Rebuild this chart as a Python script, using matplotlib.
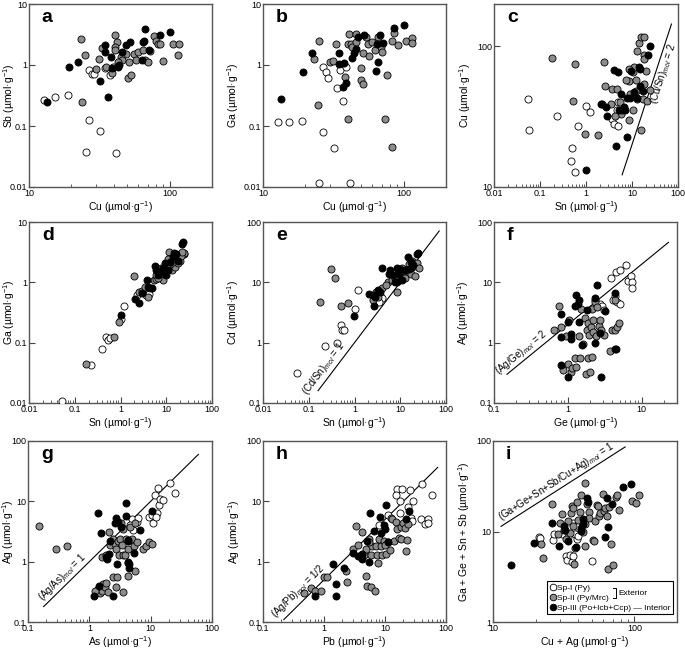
import numpy as np
import matplotlib
matplotlib.use("Agg")
import matplotlib.pyplot as plt
from matplotlib.lines import Line2D
from matplotlib.ticker import LogLocator, FuncFormatter, NullFormatter, NullLocator

plt.rcParams["font.family"] = ["Liberation Sans", "DejaVu Sans"]
plt.rcParams["mathtext.fontset"] = "custom"
plt.rcParams["mathtext.rm"] = "Liberation Sans"
plt.rcParams["mathtext.it"] = "Liberation Sans:italic"

UNIT = " (µmol·g$^{-1}$)"

# ---- a: Cu vs Sb
a_white_cu = [12.8, 15.4, 18.8, 26.7, 28, 29, 26.7, 31.8, 25.3, 41.3, 37.5, 34.6, 39.5]
a_white_sb = [0.27, 0.30, 0.32, 0.83, 0.71, 0.71, 0.125, 0.082, 0.038, 0.036, 0.69, 0.88, 0.94]
a_gray_cu = [23.3, 25, 24, 31.4, 30, 33, 40.6, 42, 40.6, 40.6, 35.5, 39, 46.4, 49, 51.7, 50.7, 52.8, 56,
             58, 60, 65, 67, 70, 72, 77, 80, 82, 85, 90, 105, 116, 115, 45, 46, 43]
a_gray_sb = [2.67, 1.46, 0.25, 1.25, 0.86, 1.88, 3.1, 2.35, 1.98, 1.75, 0.94, 0.75, 1.55, 1.52, 1.1, 0.61,
             0.69, 1.5, 1.2, 1.62, 1.74, 1.2, 1.1, 1.68, 3.0, 2.45, 2.2, 2.2, 1.16, 2.2, 2.2, 1.46, 1.37, 1.2, 1.1]
a_black_cu = [13.4, 19.3, 22.4, 32, 36.5, 34.5, 34.5, 38, 39, 43, 43.5, 46, 48.6, 52.5, 65, 67, 63.6, 65.5,
              71.5, 86, 100]
a_black_sb = [0.25, 0.93, 1.1, 0.55, 0.3, 2.1, 1.65, 1.33, 0.89, 0.94, 1.0, 1.65, 2.1, 2.4, 2.4, 3.9, 1.2,
              2.5, 1.75, 3.1, 3.5]

# ---- b: Cu vs Ga
b_white_cu = [12.8, 15.4, 18.8, 26.6, 28, 29.1, 33.8, 37.3, 26.8, 32, 25.1, 41.3, 35.3, 38.8]
b_white_ga = [0.117, 0.117, 0.12, 0.94, 0.78, 0.62, 0.42, 0.26, 0.08, 0.043, 0.0118, 0.0118, 0.83, 0.94]
b_gray_cu = [25.1, 23.2, 24.5, 30, 31.5, 33, 41, 40, 42, 43, 45.5, 40.5, 38.5, 49.4, 50, 51.5, 51.5, 55.7,
             57, 59.8, 63, 65.5, 68.5, 70, 76, 82.5, 86, 90.6, 74, 83, 104, 114, 114, 46, 53.6]
b_gray_ga = [2.5, 1.24, 0.22, 1.1, 1.17, 2.2, 3.2, 2.2, 2.25, 2.0, 2.4, 0.13, 0.64, 0.88, 0.57, 0.48, 1.6,
             2.2, 1.4, 2.4, 1.76, 2.9, 2.0, 1.65, 0.69, 2.5, 3.3, 2.1, 0.13, 0.046, 2.5, 2.8, 2.3, 3.2, 2.9]
b_black_cu = [13.4, 19.3, 22.4, 34.8, 34.8, 37.7, 36.8, 38.6, 43, 44.4, 45.5, 47.7, 52, 65, 66, 63.3, 68,
              71, 85, 100]
b_black_ga = [0.28, 0.78, 1.6, 1.6, 1.05, 1.08, 0.44, 0.51, 1.32, 1.55, 1.8, 2.9, 3.1, 2.2, 1.14, 0.8,
              3.1, 2.3, 4.0, 4.5]

# ---- c: Sn vs Cu
c_white_sn = [0.054, 0.057, 0.24, 0.66, 1.01, 1.22, 0.49, 0.48, 0.58, 3.68, 4.05, 4.86, 4.95, 4.68]
c_white_cu = [42, 25.5, 32, 27, 37.5, 34, 19, 15.3, 12.8, 30.5, 28, 27, 40, 35]
c_gray_sn = [0.186, 0.59, 0.51, 0.97, 1.82, 2.52, 2.61, 2.26, 3.5, 3.68, 4.77, 5.5, 5.78, 4.31, 8.75,
             9.14, 8.47, 10.35, 10.6, 11, 12.0, 12.0, 12.9, 12.7, 14.4, 15.8, 18.5, 17.9, 18.5, 20.4,
             18.2, 17.0, 20.9, 15.4, 24.3, 7.4, 8.47]
c_gray_cu = [83, 75, 41, 24, 23.5, 78, 52, 39, 39, 50, 50, 40, 33, 32, 30, 46, 57, 35, 66, 71, 58, 48,
             42, 92, 106, 116, 116, 87, 81, 67, 54, 42, 41, 25.5, 49, 58, 69]
c_black_sn = [1.01, 2.08, 2.7, 2.88, 4.13, 4.86, 5.78, 5.22, 6.05, 6.7, 7.06, 7.9, 8.93, 9.4, 7.9,
              4.41, 14.1, 14.6, 14.6, 17.0, 21.8, 24.3, 12.7, 11.3]
c_black_cu = [13.3, 39, 37, 32, 68, 66, 46, 35, 35, 37, 35, 43, 43, 67, 22.5, 19.5, 71, 69, 52, 48, 87,
              101, 43, 47]

# ---- d: Sn vs Ga
d_white_sn = [0.052, 0.23, 0.40, 0.49, 0.53, 0.58, 1.0, 1.2, 2.3, 3.7, 3.9, 4.1, 7.5, 11, 14]
d_white_ga = [0.0108, 0.042, 0.078, 0.124, 0.11, 0.12, 0.245, 0.41, 0.62, 0.62, 0.77, 0.64, 1.16, 1.77, 2.05]
d_gray_sn = [0.18, 0.72, 0.93, 2.0, 2.5, 2.9, 4.0, 5.3, 5.9, 7.0, 8.5, 10, 11.5, 12.4, 13.5, 15.6, 17,
             19.5, 24, 25, 13, 20, 3.5, 4.5, 6, 6.5, 8, 9, 11, 12, 14, 16, 18, 21, 22, 10.5, 7.5]
d_gray_ga = [0.045, 0.125, 0.22, 1.25, 0.68, 0.72, 0.57, 1.1, 1.15, 1.35, 1.1, 1.6, 3.2, 1.9, 1.6, 1.8,
             2.6, 2.3, 3.0, 3.1, 2.5, 2.8, 0.85, 0.8, 1.3, 1.2, 1.5, 1.4, 2.4, 2.0, 2.2, 2.9, 2.1, 2.7,
             3.2, 1.8, 1.7]
d_black_sn = [1.0, 2.1, 2.6, 3.0, 3.8, 3.9, 4.8, 5.6, 6.1, 6.7, 7.6, 8.3, 9.6, 10, 12, 13.7, 14.8, 16.3,
              18.2, 22.6, 23.6, 11]
d_black_ga = [0.29, 0.52, 0.46, 0.66, 1.1, 0.83, 0.8, 1.85, 1.6, 1.33, 1.5, 1.7, 2.1, 1.33, 2.2, 2.65,
              3.1, 2.95, 2.3, 4.4, 4.7, 1.6]

# ---- e: Sn vs Cd
e_white_sn = [0.055, 0.23, 0.42, 0.50, 0.52, 0.58, 1.0, 1.2, 3.7, 3.9, 3.4, 7.6, 10.3]
e_white_cd = [0.31, 0.89, 1.0, 2.0, 1.6, 1.6, 3.6, 7.5, 6.2, 5.5, 4.8, 12.4, 14]
e_gray_sn = [0.18, 0.50, 0.73, 0.30, 0.37, 2.6, 3.0, 3.3, 3.9, 5.5, 5.0, 6.5, 7.6, 8.6, 9.1, 9.8, 10.7,
             11.6, 12.3, 13, 14.5, 15.6, 17.6, 18.3, 19.2, 20, 20.5, 22.7, 25.5]
e_gray_cd = [4.8, 4.0, 4.5, 16.4, 11.6, 5.1, 7.0, 5.8, 8.0, 10.3, 9.1, 10.9, 11.6, 7.0, 14.1, 13.2, 17,
             15, 12.4, 11.6, 16, 20, 14, 23, 20, 18.3, 12.7, 21, 17.1]
e_black_sn = [0.98, 2.1, 2.5, 2.8, 2.7, 3.9, 3.3, 3.6, 5.6, 5.9, 7.0, 7.6, 8.3, 8.7, 9.5, 10, 10.7, 14.5,
              15.6, 16.9, 17.6, 18.7, 23.5, 24.5, 12.6]
e_black_cd = [2.8, 6.4, 6.2, 5.8, 4.0, 17.6, 7.5, 6.8, 14, 16, 13.2, 10.3, 17, 10.3, 14, 16.4, 11, 26.5,
              16.4, 21.9, 17, 19.3, 29.5, 30.5, 15.9]

# ---- f: Ge vs Ag
f_white_ge = [3.8, 4.5, 5.0, 6.1, 6.5, 7.2, 7.3, 7.3, 4.1, 4.6, 5.1, 4.4, 2.7, 2.9, 2.3, 3.1]
f_white_ag = [12, 15, 16, 19.5, 10.5, 12.5, 10, 8.2, 5.0, 4.8, 4.3, 6.0, 4.4, 4.0, 5.0, 3.5]
f_gray_ge = [0.65, 0.75, 0.8, 0.85, 0.95, 1.0, 1.05, 1.1, 1.15, 1.25, 1.3, 1.45, 1.4, 1.5, 1.6, 1.7, 1.75,
             1.8, 1.85, 1.9, 1.95, 2.0, 2.05, 2.1, 2.1, 2.2, 2.2, 2.3, 2.4, 2.5, 2.6, 2.7, 2.8, 3.1, 3.7,
             3.9, 4.3, 4.6, 4.9, 4.4]
f_gray_ag = [1.6, 4.0, 1.8, 0.35, 1.3, 0.45, 2.4, 0.33, 0.38, 0.55, 0.4, 0.55, 1.3, 3.6, 0.95, 2.6, 0.3,
             1.6, 0.55, 2.1, 1.35, 0.33, 1.8, 0.58, 3.6, 2.4, 1.5, 4.7, 1.3, 3.9, 1.9, 2.4, 1.6, 1.35,
             0.72, 1.6, 1.6, 1.8, 2.1, 5.0]
f_black_ge = [0.8, 0.8, 0.8, 1.0, 1.0, 1.1, 1.1, 1.3, 1.35, 1.4, 1.4, 1.55, 1.8, 2.3, 2.3, 2.5, 2.7, 2.8,
              3.2, 4.3, 4.4, 4.5, 1.25]
f_black_ag = [0.42, 3.0, 1.25, 0.27, 2.2, 1.4, 1.15, 6.2, 4.3, 5.0, 2.2, 0.9, 3.5, 1.0, 5.5, 9.0, 1.45,
              0.27, 3.3, 6.7, 0.78, 0.8, 4.0]

# ---- g: As vs Ag
g_white_as = [3.9, 4.9, 5.9, 6.1, 5.2, 4.6, 9.4, 11, 10.6, 12.5, 11.7, 13.4, 13.6, 14.4, 15.6, 20.5, 25, 12]
g_white_ag = [4.5, 5.0, 4.6, 5.3, 3.4, 4.1, 5.6, 4.3, 5.9, 6.3, 12.8, 16.5, 8.8, 10.8, 10.5, 20, 13.5, 5.5]
g_gray_as = [0.15, 0.29, 0.44, 1.6, 1.9, 2.1, 2.2, 2.4, 2.6, 2.7, 2.9, 3.0, 3.2, 3.4, 3.5, 3.6, 3.8, 4.0,
             4.2, 4.3, 4.6, 5.0, 5.3, 5.6, 6.0, 7.5, 8.5, 9.5, 10.5, 3.3, 5.5, 1.4, 1.5, 1.6, 1.7, 1.8,
             1.9, 2.0, 2.4, 2.7, 2.8, 3.6, 4.2, 1.25]
g_gray_ag = [3.9, 1.6, 1.8, 1.2, 1.3, 3.1, 1.9, 2.4, 2.0, 1.6, 2.2, 1.3, 2.4, 1.9, 1.3, 3.5, 1.3, 2.4,
             1.6, 0.95, 3.8, 2.4, 1.8, 0.7, 2.1, 1.6, 1.8, 2.1, 2.0, 4.3, 4.3, 0.35, 0.3, 0.33, 0.42,
             0.38, 0.45, 0.32, 0.55, 0.38, 0.55, 0.32, 0.57, 0.33]
g_black_as = [1.4, 1.55, 2.65, 2.75, 2.9, 3.3, 3.9, 3.9, 4.3, 2.15, 1.85, 2.1, 1.95, 2.8, 4.2, 4.4, 4.5,
              5.4, 6.7, 10.5, 1.2, 2.4, 1.45, 4.2]
g_black_ag = [6.5, 3.0, 4.3, 5.2, 4.6, 3.7, 9.4, 5.7, 2.2, 2.2, 1.2, 1.35, 1.1, 0.9, 1.0, 0.8, 0.9, 1.4,
              3.3, 7.0, 0.27, 0.27, 0.4, 2.3]

# ---- h: Pb vs Ag
h_white_pb = [7.9, 11.3, 15.5, 15, 17.5, 19.2, 25.7, 24, 29, 40, 60, 26.4, 28, 39, 45, 50, 50, 17.5]
h_white_ag = [4.0, 5.9, 16, 12.6, 10.2, 16, 15.5, 8, 10, 19.5, 12.5, 5.3, 4.7, 5.1, 4.2, 5.0, 4.4, 6.5]
h_gray_pb = [0.47, 0.62, 0.7, 0.9, 1.0, 1.1, 2.3, 2.4, 3.0, 3.3, 3.6, 4.2, 4.5, 4.8, 4.9, 5.0, 5.5, 5.8,
             6.0, 6.2, 6.8, 7.0, 7.5, 7.6, 8.0, 8.5, 9.0, 9.5, 10.5, 11, 12, 12.5, 13, 14, 15, 16, 17,
             18, 18.5, 20, 21, 22, 23, 24, 5.5, 10]
h_gray_ag = [0.3, 0.36, 0.33, 0.33, 0.55, 0.55, 0.7, 0.46, 1.6, 3.9, 1.9, 3.1, 1.3, 1.6, 0.57, 0.4, 2.4,
             0.38, 1.3, 1.8, 0.33, 1.8, 1.3, 0.95, 2.4, 1.8, 1.3, 2.2, 1.35, 2.1, 1.55, 5.2, 5.0, 2.2,
             4.5, 3.5, 2.5, 3.8, 2.4, 4.3, 3.6, 1.5, 2.3, 4.2, 2.1, 1.9]
h_black_pb = [0.72, 1.4, 1.6, 1.6, 2.1, 3.0, 3.6, 4.2, 4.2, 5.0, 5.5, 5.6, 6.5, 8.2, 8.5, 9.5, 10.0,
              10.5, 11, 22, 25, 4.0]
h_black_ag = [0.27, 0.9, 0.42, 0.27, 0.8, 1.4, 1.25, 1.35, 1.1, 2.2, 0.98, 6.3, 3.2, 5.5, 3.0, 4.0, 3.5,
              8.8, 2.1, 5.0, 6.8, 1.2]

# ---- i: Cu+Ag vs Ga+Ge+Sn+Sb
i_white_x = [21, 21.5, 26.5, 27, 31, 33, 33.5, 35, 36, 36.5, 37, 38, 38.5, 39, 40, 50, 34]
i_white_y = [8.8, 8.4, 8.0, 9.3, 9.5, 5.3, 4.8, 5.5, 4.6, 5.3, 12.5, 9.5, 11.5, 8.3, 9.0, 4.7, 8.8]
i_gray_x = [22, 22.5, 26, 29, 30, 31, 32, 33, 34, 35, 35.5, 36, 36.5, 37, 37.5, 38, 39, 40, 41, 42, 43,
            44.5, 45, 46, 47.5, 48, 51, 52, 53, 54, 55, 56, 57, 60, 61, 62, 64, 65, 66, 68, 70, 74, 75,
            78, 96, 103, 108, 45]
i_gray_y = [7.2, 5.1, 20, 9.3, 12.5, 15.5, 10.5, 8.2, 13, 9.6, 16, 19, 18, 11.5, 4.4, 6.5, 21, 13.5,
            16.5, 25.5, 10, 7, 12, 20, 16.5, 14, 8, 7.8, 13, 19.5, 19, 15, 16, 26, 17, 18, 15, 3.9,
            18.5, 7.3, 4.3, 24, 25, 17.5, 21.5, 20.5, 25.5, 34.5]
i_black_x = [13.5, 19.5, 26, 29.5, 32, 32.3, 34, 38.7, 42, 43, 43, 42, 46.5, 47.3, 62, 64, 65, 69, 83, 94]
i_black_y = [4.3, 7.5, 12.3, 7.0, 11.5, 10.3, 7.8, 6.8, 11, 12.2, 13.8, 10.2, 23.5, 21.2, 8.6, 23.5,
             11.3, 20, 31, 33.5]

GROUP_STYLE = [("white", "Sp-I (Py)"), ("#8c8c8c", "Sp-II (Py/Mrc)"),
               ("black", "Sp-III (Po+Icb+Ccp) \u2014 Interior")]

W, H = 685, 650
fig = plt.figure(figsize=(W / 100, H / 100), dpi=100)


def make_ax(left, top, w, h):
    return fig.add_axes([left / W, 1 - (top + h) / H, w / W, h / H])


def setup(ax, xlim, ylim, xlabel, ylabel, letter, ylab_x):
    ax.set_xscale("log")
    ax.set_yscale("log")
    ax.set_xlim(*xlim)
    ax.set_ylim(*ylim)
    fmt = FuncFormatter(lambda v, p: f"{v:g}")
    ax.xaxis.set_major_formatter(fmt)
    ax.yaxis.set_major_formatter(fmt)
    ax.xaxis.set_minor_locator(LogLocator(base=10, subs=np.arange(2, 10)))
    ax.xaxis.set_minor_formatter(NullFormatter())
    ax.yaxis.set_minor_locator(NullLocator())
    ax.tick_params(which="both", direction="in", labelsize=6.5, color="#444444", pad=1.5)
    ax.tick_params(which="major", length=4, width=0.8)
    ax.tick_params(which="minor", length=2.2, width=0.6)
    for sp in ax.spines.values():
        sp.set_color("#555555")
        sp.set_linewidth(1.0)
    ax.set_xlabel(xlabel, fontsize=7.5, labelpad=0.5)
    ax.set_ylabel(ylabel, fontsize=7.5)
    ax.yaxis.set_label_coords(ylab_x, 0.5)
    ax.text(0.07, 0.9, letter, transform=ax.transAxes, fontsize=14, fontweight="bold")


def scatter_groups(ax, groups):
    for (x, y), (color, _) in zip(groups, GROUP_STYLE):
        ax.scatter(x, y, s=26, c=color, edgecolors="black", linewidths=0.6, zorder=3)


def ratio_line(ax, x0, x1, ratio, text, x_text, side=1, offset=9, size=7):
    xs = np.array([x0, x1])
    ax.plot(xs, ratio * xs, color="black", lw=0.8, zorder=2)
    p1 = ax.transData.transform((x_text, ratio * x_text))
    p2 = ax.transData.transform((x_text * 1.5, ratio * x_text * 1.5))
    ang = np.arctan2(p2[1] - p1[1], p2[0] - p1[0])
    dx, dy = -np.sin(ang) * side * offset, np.cos(ang) * side * offset
    ax.annotate(text, (x_text, ratio * x_text), xytext=(dx, dy), textcoords="offset pixels",
                rotation=np.degrees(ang), rotation_mode="anchor", ha="center", va="center",
                fontsize=size)


# row 1
ax = make_ax(29, 4, 183, 183)
setup(ax, (10, 200), (0.01, 10), "Cu" + UNIT, "Sb" + UNIT, "a", -0.068)
scatter_groups(ax, [(a_white_cu, a_white_sb), (a_gray_cu, a_gray_sb), (a_black_cu, a_black_sb)])

ax = make_ax(263, 4, 183, 183)
setup(ax, (10, 200), (0.01, 10), "Cu" + UNIT, "Ga" + UNIT, "b", -0.12)
scatter_groups(ax, [(b_white_cu, b_white_ga), (b_gray_cu, b_gray_ga), (b_black_cu, b_black_ga)])

ax = make_ax(494, 4, 184, 183)
setup(ax, (0.01, 100), (10, 200), "Sn" + UNIT, "Cu" + UNIT, "c", -0.115)
scatter_groups(ax, [(c_white_sn, c_white_cu), (c_gray_sn, c_gray_cu), (c_black_sn, c_black_cu)])
ratio_line(ax, 6.1, 72, 2, "(Cu/Sn)$_{mol}$ = 2", 33, side=-1, offset=8)

# row 2
ax = make_ax(29, 222, 183, 181)
setup(ax, (0.01, 100), (0.01, 10), "Sn" + UNIT, "Ga" + UNIT, "d", -0.068)
scatter_groups(ax, [(d_white_sn, d_white_ga), (d_gray_sn, d_gray_ga), (d_black_sn, d_black_ga)])

ax = make_ax(263, 222, 183, 181)
setup(ax, (0.01, 100), (0.1, 100), "Sn" + UNIT, "Cd" + UNIT, "e", -0.12)
scatter_groups(ax, [(e_white_sn, e_white_cd), (e_gray_sn, e_gray_cd), (e_black_sn, e_black_cd)])
ratio_line(ax, 0.16, 71, 1, "(Cd/Sn)$_{mol}$ = 1", 0.3, offset=9)

ax = make_ax(494, 222, 183, 181)
setup(ax, (0.1, 30), (0.1, 100), "Ge" + UNIT, "Ag" + UNIT, "f", -0.125)
scatter_groups(ax, [(f_white_ge, f_white_ag), (f_gray_ge, f_gray_ag), (f_black_ge, f_black_ag)])
ratio_line(ax, 0.15, 23, 2, "(Ag/Ge)$_{mol}$ = 2", 0.27, offset=8)

# row 3
ax = make_ax(28, 441, 184, 181)
setup(ax, (0.1, 100), (0.1, 100), "As" + UNIT, "Ag" + UNIT, "g", -0.065)
scatter_groups(ax, [(g_white_as, g_white_ag), (g_gray_as, g_gray_ag), (g_black_as, g_black_ag)])
ratio_line(ax, 0.18, 60, 1, "(Ag/As)$_{mol}$ = 1", 0.45, offset=8)

ax = make_ax(263, 441, 183, 181)
setup(ax, (0.1, 100), (0.1, 100), "Pb" + UNIT, "Ag" + UNIT, "h", -0.115)
scatter_groups(ax, [(h_white_pb, h_white_ag), (h_gray_pb, h_gray_ag), (h_black_pb, h_black_ag)])
ratio_line(ax, 0.22, 73, 0.5, "(Ag/Pb)$_{mol}$ = 1/2", 0.5, offset=10)

ax = make_ax(493, 441, 184, 181)
setup(ax, (10, 200), (1, 100), "Cu + Ag" + UNIT, "Ga + Ge + Sn + Sb" + UNIT, "i", -0.115)
scatter_groups(ax, [(i_white_x, i_white_y), (i_gray_x, i_gray_y), (i_black_x, i_black_y)])
ratio_line(ax, 11.4, 86, 1, "(Ga+Ge+Sn+Sb/Cu+Ag)$_{mol}$ = 1", 30, offset=8)

handles = [Line2D([], [], ls="none", marker="o", ms=4.8, mfc=c, mec="black", mew=0.6, label=lab)
           for c, lab in GROUP_STYLE]
leg = ax.legend(handles=handles, loc="lower right", bbox_to_anchor=(0.98, 0.044), fontsize=6,
                frameon=True, fancybox=False, edgecolor="black", framealpha=1, handlelength=0.7,
                handletextpad=0.2, borderpad=0.3, labelspacing=0.25, borderaxespad=0)
leg.get_frame().set_linewidth(0.8)
leg.set_zorder(4)

# bracket joining Sp-I and Sp-II as "Exterior"
fig.canvas.draw()
inv = ax.transAxes.inverted()
t1 = inv.transform(leg.get_texts()[0].get_window_extent())
t2 = inv.transform(leg.get_texts()[1].get_window_extent())
bx = max(t1[1, 0], t2[1, 0]) + 0.02
ytop = (t1[0, 1] + t1[1, 1]) / 2
ybot = (t2[0, 1] + t2[1, 1]) / 2
ax.plot([bx, bx + 0.015, bx + 0.015, bx], [ytop, ytop, ybot, ybot], transform=ax.transAxes,
        color="black", lw=0.7, zorder=10)
ax.text(bx + 0.03, (ytop + ybot) / 2, "Exterior", transform=ax.transAxes, fontsize=6,
        va="center", zorder=10)

fig.savefig("out.png", dpi=100)
